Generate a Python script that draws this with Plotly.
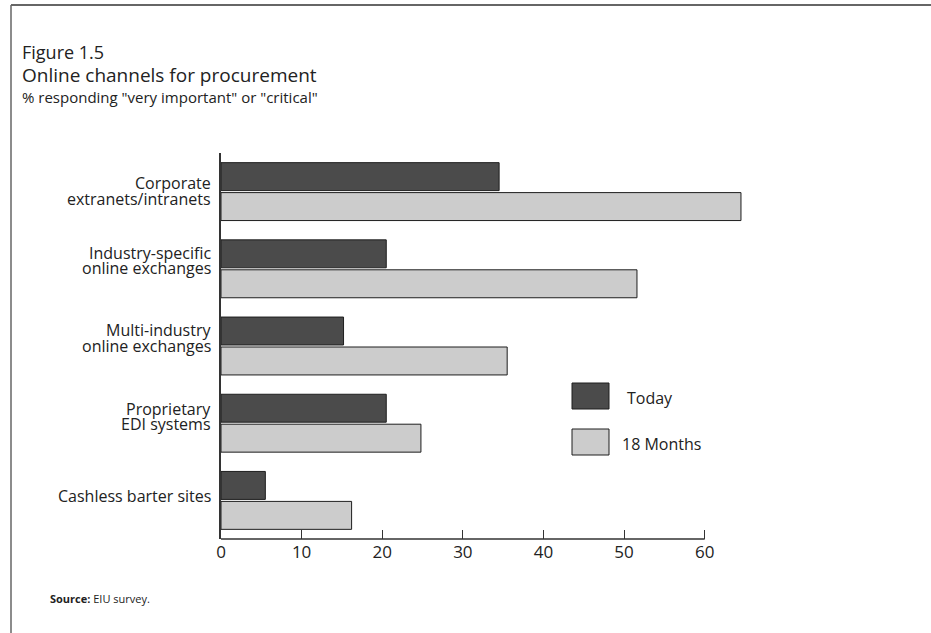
import plotly.graph_objects as go

# Survey data: share of respondents rating each channel "very important" or "critical"
categories = [
    "Corporate<br>extranets/intranets",
    "Industry-specific<br>online exchanges",
    "Multi-industry<br>online exchanges",
    "Proprietary<br>EDI systems",
    "Cashless barter sites",
]
today = [34.5, 20.5, 15.2, 20.5, 5.5]
months_18 = [64.5, 51.6, 35.5, 24.8, 16.2]
series_names = ["Today", "18 Months"]
x_ticks = [0, 10, 20, 30, 40, 50, 60]

W, H = 931, 633
L, R, T, B = 221, 186, 153, 94
PW, PH = W - L - R, H - T - B

FONT = "Open Sans"
DARK = "#4b4b4b"
LIGHT = "#cccccc"
EDGE = "#1e1e1e"
INK = "#222222"


def px(x):
    return (x - L) / PW


def py(y):
    return (H - B - y) / PH


fig = go.Figure()
fig.add_trace(go.Bar(
    y=categories, x=today, orientation="h", name=series_names[0],
    marker=dict(color=DARK, line=dict(color=EDGE, width=1)),
    showlegend=False,
))
fig.add_trace(go.Bar(
    y=categories, x=months_18, orientation="h", name=series_names[1],
    marker=dict(color=LIGHT, line=dict(color=EDGE, width=1)),
    showlegend=False,
))

shapes = []
annotations = []

# x axis baseline only spans the labelled range
shapes.append(dict(type="line", xref="x", yref="paper", x0=0, x1=x_ticks[-1], y0=0, y1=0,
                   line=dict(color="#333333", width=1.5)))

# outer frame: top and left rules
shapes.append(dict(type="line", xref="paper", yref="paper", x0=px(11), x1=px(W), y0=py(5), y1=py(5),
                   line=dict(color="#666666", width=2)))
shapes.append(dict(type="line", xref="paper", yref="paper", x0=px(11), x1=px(11), y0=py(5), y1=py(H),
                   line=dict(color="#666666", width=1.5)))

# category labels, lines set close together
label_shift = [(9, -7), (16, 1), (16, 0), (14, -1), (4,)]
for cat, shifts in zip(categories, label_shift):
    for line_text, dy in zip(cat.split("<br>"), shifts):
        annotations.append(dict(
            xref="paper", yref="y", x=0, y=cat, text=line_text, showarrow=False,
            xanchor="right", yanchor="middle", xshift=-8, yshift=dy,
            font=dict(family=FONT, size=16, color=INK),
        ))

# legend drawn as boxes with text
legend_rows = [(series_names[0], DARK, 383, 409, 625), (series_names[1], LIGHT, 429, 455, 620)]
for name, color, y0, y1, tx in legend_rows:
    shapes.append(dict(type="rect", xref="paper", yref="paper",
                       x0=px(572), x1=px(609), y0=py(y1), y1=py(y0),
                       fillcolor=color, line=dict(color=EDGE, width=1)))
    annotations.append(dict(xref="paper", yref="paper", x=px(tx), y=py((y0 + y1) / 2 + 2),
                            text=name, showarrow=False, xanchor="left", yanchor="middle",
                            font=dict(family=FONT, size=16, color=INK)))

# titles
annotations.append(dict(xref="paper", yref="paper", x=px(20), y=py(52), text="Figure 1.5",
                        showarrow=False, xanchor="left", yanchor="middle",
                        font=dict(family=FONT, size=18, color=INK)))
annotations.append(dict(xref="paper", yref="paper", x=px(20), y=py(75), text="Online channels for procurement",
                        showarrow=False, xanchor="left", yanchor="middle",
                        font=dict(family=FONT, size=19, color=INK)))
annotations.append(dict(xref="paper", yref="paper", x=px(20), y=py(97),
                        text="% responding \"very important\" or \"critical\"",
                        showarrow=False, xanchor="left", yanchor="middle",
                        font=dict(family=FONT, size=15, color=INK)))
annotations.append(dict(xref="paper", yref="paper", x=px(48), y=py(598),
                        text="<b>Source:</b> EIU survey.",
                        showarrow=False, xanchor="left", yanchor="middle",
                        font=dict(family=FONT, size=11, color=INK)))

fig.update_layout(
    width=W, height=H,
    margin=dict(l=L, r=R, t=T, b=B),
    paper_bgcolor="white", plot_bgcolor="white",
    barmode="group", bargap=0.224, bargroupgap=0.067,
    shapes=shapes, annotations=annotations,
    font=dict(family=FONT, color=INK),
    xaxis=dict(range=[0, 65], tickvals=x_ticks, ticks="inside", ticklen=9, tickwidth=1,
               tickcolor="#333333", showgrid=False, zeroline=False, showline=False,
               tickfont=dict(family=FONT, size=17, color=INK), ticklabelstandoff=1),
    yaxis=dict(categoryorder="array", categoryarray=categories, range=[4.5, -0.5],
               showticklabels=False, ticks="", showgrid=False, zeroline=False,
               showline=True, linecolor="#333333", linewidth=1.5),
)

fig.write_html("out.html")
